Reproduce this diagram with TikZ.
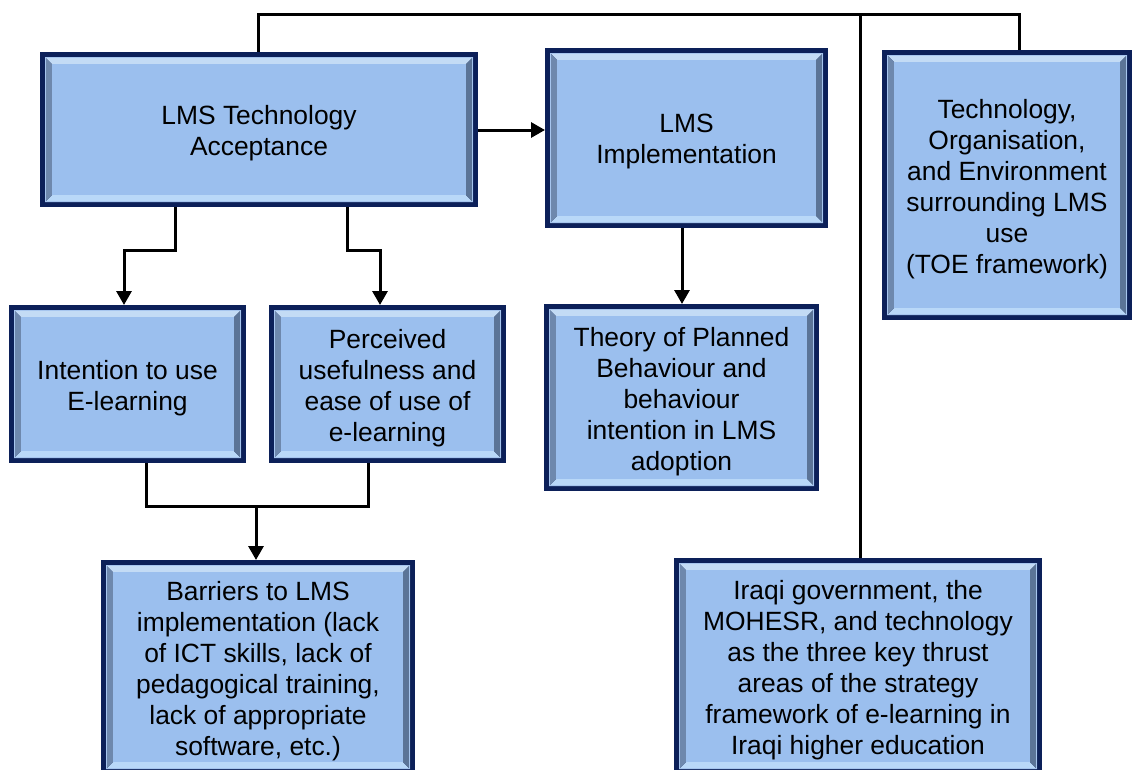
\documentclass[tikz,border=0pt]{standalone}
\usepackage{fontspec}
\setmainfont{Liberation Sans}
\usetikzlibrary{arrows.meta,calc}

\definecolor{frame}{HTML}{0C2059}
\definecolor{boxfill}{HTML}{9BBFEE}
\definecolor{bvtop}{HTML}{C3DBF5}
\definecolor{bvleft}{HTML}{6E88AD}
\definecolor{bvright}{HTML}{5B7497}
\definecolor{bvbottom}{HTML}{B9D8F8}
\definecolor{bvedge}{HTML}{A6C5EE}

\tikzset{
  bevel/.style={
    rectangle, fill=frame, inner sep=0pt, outer sep=0pt,
    path picture={
      % bevel bands between the dark frame (5pt) and the flat face (12pt in)
      \fill[bvtop] let \p1=(path picture bounding box.south west),
                       \p2=(path picture bounding box.north east) in
        (\x1+5pt,\y2-5pt) -- (\x2-5pt,\y2-5pt) -- (\x2-12pt,\y2-12pt) -- (\x1+12pt,\y2-12pt) -- cycle;
      \fill[bvbottom] let \p1=(path picture bounding box.south west),
                          \p2=(path picture bounding box.north east) in
        (\x1+5pt,\y1+5pt) -- (\x2-5pt,\y1+5pt) -- (\x2-12pt,\y1+12pt) -- (\x1+12pt,\y1+12pt) -- cycle;
      \fill[bvleft] let \p1=(path picture bounding box.south west),
                        \p2=(path picture bounding box.north east) in
        (\x1+5pt,\y1+5pt) -- (\x1+5pt,\y2-5pt) -- (\x1+12pt,\y2-12pt) -- (\x1+12pt,\y1+12pt) -- cycle;
      \fill[bvright] let \p1=(path picture bounding box.south west),
                         \p2=(path picture bounding box.north east) in
        (\x2-5pt,\y1+5pt) -- (\x2-5pt,\y2-5pt) -- (\x2-12pt,\y2-12pt) -- (\x2-12pt,\y1+12pt) -- cycle;
      \draw[bvedge, line width=1.2pt] let \p1=(path picture bounding box.south west),
                         \p2=(path picture bounding box.north east) in
        (\x1+5.6pt,\y1+5.6pt) rectangle (\x2-5.6pt,\y2-5.6pt);
      \fill[boxfill] let \p1=(path picture bounding box.south west),
                         \p2=(path picture bounding box.north east) in
        (\x1+12pt,\y1+12pt) rectangle (\x2-12pt,\y2-12pt);
    }
  },
  boxtext/.style={align=center, inner sep=0pt, text=black,
    font=\fontsize{26.4}{31}\selectfont},
  link/.style={draw=black, line width=3pt},
  arr/.style={link, -{Triangle[width=15pt,length=14pt]}}
}

% box with its caption set slightly below the geometric centre
\newcommand\bevelbox[5]{%
  \node[bevel, minimum width=#3, minimum height=#4] (#1) at (#2) {};
  \node[boxtext] (#1-text) at ($(#1.center)+(0,4)$) {#5};
}

\begin{document}
\begin{tikzpicture}[x=1pt,y=-1pt]
\useasboundingbox (0,0) rectangle (1133,769);
\clip (0,0) rectangle (1133,769);

% boxes
\bevelbox{acc}{259,129.5}{438pt}{155pt}
  {LMS Technology\\Acceptance}
\bevelbox{impl}{686.5,138}{283pt}{180pt}
  {LMS\\Implementation}
\bevelbox{toe}{1007,185}{250pt}{270pt}
  {Technology,\\Organisation,\\and Environment\\surrounding LMS\\use\\(TOE framework)}
\bevelbox{int}{127.5,384}{237pt}{158pt}
  {Intention to use\\E-learning}
\bevelbox{per}{387.5,384}{237pt}{158pt}
  {Perceived\\usefulness and\\ease of use of\\e-learning}
\bevelbox{tpb}{681.5,397.5}{275pt}{187pt}
  {Theory of Planned\\Behaviour and\\behaviour\\intention in LMS\\adoption}
\bevelbox{bar}{258,667}{314pt}{214pt}
  {Barriers to LMS\\implementation (lack\\of ICT skills, lack of\\pedagogical training,\\lack of appropriate\\software, etc.)}
\bevelbox{iraq}{858,666}{368pt}{216pt}
  {Iraqi government, the\\MOHESR, and technology\\as the three key thrust\\areas of the strategy\\framework of e-learning in\\Iraqi higher education}

% routing points
\coordinate (t1) at (258,14);
\coordinate (t2) at (1019,14);
\coordinate (t3) at (860,14);
\coordinate (a1) at (175,250);
\coordinate (a2) at (124,250);
\coordinate (b1) at (347,250);
\coordinate (b2) at (380,250);
\coordinate (m1) at (146,506);
\coordinate (m2) at (368,506);
\coordinate (m3) at (256,506);
\coordinate (d1) at (682,0);

% connectors
\draw[arr] (acc.east |- 0,130) coordinate (e1) -- (e1 -| impl.west);
\draw[link] (acc.north -| t1) -- (t1) -- (t2) -- (toe.north -| t2);
\draw[link] (t3) -- (iraq.north -| t3);
\draw[arr] (acc.south -| a1) -- (a1) -- (a2) -- (int.north -| a2);
\draw[arr] (acc.south -| b1) -- (b1) -- (b2) -- (per.north -| b2);
\draw[arr] (impl.south -| d1) -- (tpb.north -| d1);
\draw[link] (int.south -| m1) -- (m1) -- (m2) -- (per.south -| m2);
\draw[arr] (m3) -- (bar.north -| m3);
\end{tikzpicture}
\end{document}
